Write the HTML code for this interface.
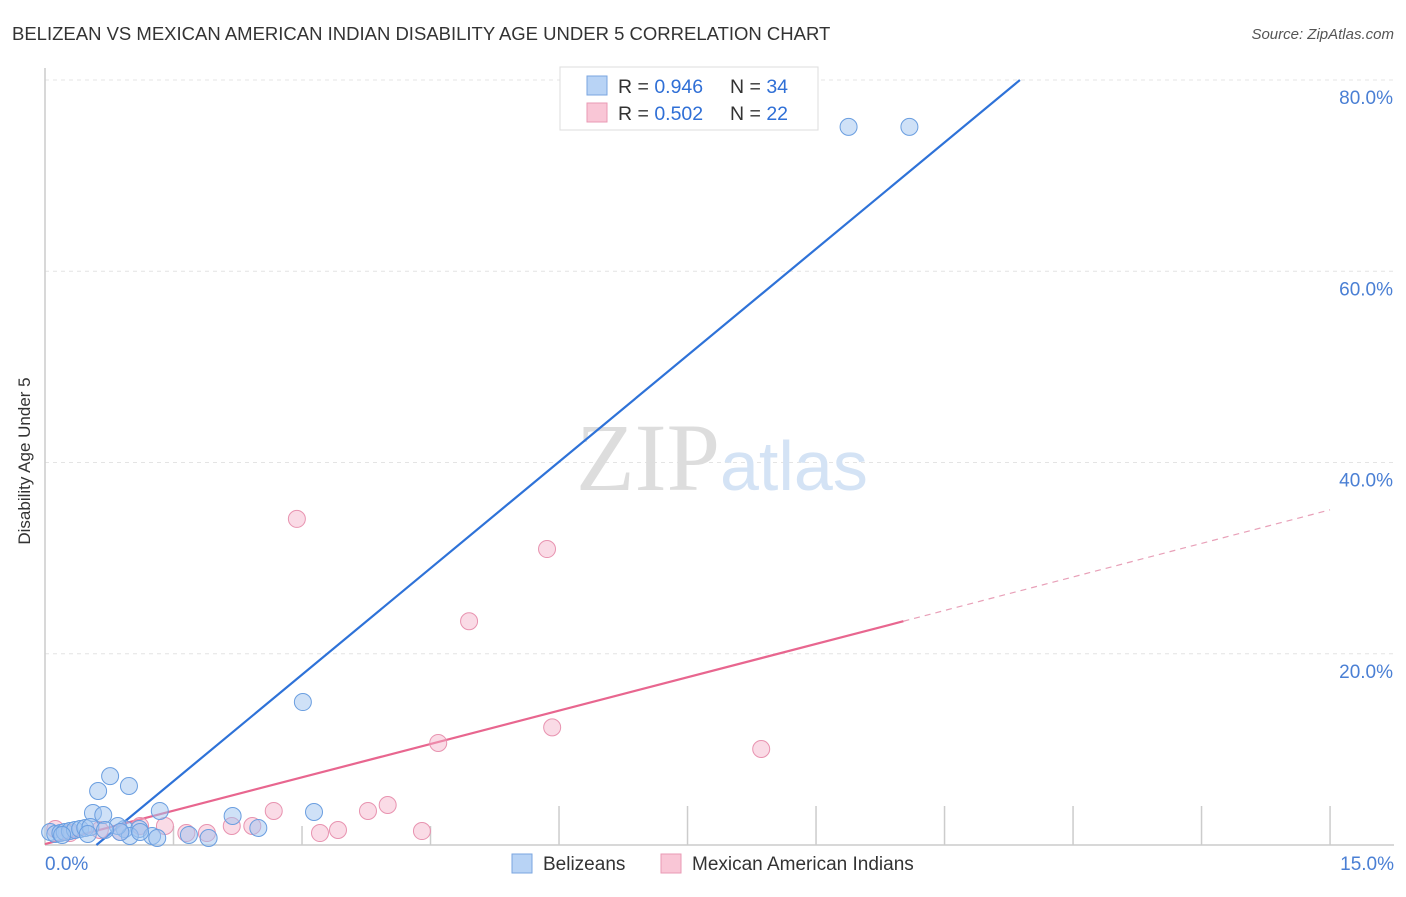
<!DOCTYPE html>
<html><head><meta charset="utf-8"><style>
body{margin:0;background:#fff;font-family:"Liberation Sans",sans-serif;}
svg text{font-family:"Liberation Sans",sans-serif;}
</style></head><body>
<svg width="1406" height="892" viewBox="0 0 1406 892" xmlns="http://www.w3.org/2000/svg">
<text x="12" y="40" font-size="18.5" fill="#333">BELIZEAN VS MEXICAN AMERICAN INDIAN DISABILITY AGE UNDER 5 CORRELATION CHART</text>
<text x="1394" y="39" font-size="15" fill="#555" font-style="italic" text-anchor="end">Source: ZipAtlas.com</text>
<g id="grid"></g>
<line x1="45" y1="68" x2="45" y2="845" stroke="#ccc" stroke-width="1.5"/>
<line x1="45" y1="845" x2="1394" y2="845" stroke="#ccc" stroke-width="1.5"/>
<text x="720" y="490" font-size="96" fill="#ddd" text-anchor="end" style="font-family:'Liberation Serif',serif">ZIP</text>
<text x="720" y="490" font-size="70" fill="#d4e3f5">atlas</text>
<text x="24" y="455" font-size="17" fill="#333" text-anchor="middle" transform="rotate(-90 30 455)">Disability Age Under 5</text>
<text x="45" y="870" font-size="19" fill="#4a7fd4">0.0%</text>
<text x="1394" y="870" font-size="19" fill="#4a7fd4" text-anchor="end">15.0%</text>
<g id="ylabels"></g>
<g id="lines"></g>
<g id="pts"></g>
<g>
<rect x="560" y="67" width="258" height="63" fill="#fff" stroke="#ddd"/>
<rect x="587" y="76" width="20" height="19" fill="#b8d3f5" stroke="#7aa6e0"/>
<rect x="587" y="103" width="20" height="19" fill="#f9c6d6" stroke="#e99ab4"/>
<text x="618" y="93" font-size="19.5" fill="#333">R = <tspan fill="#2f6fd6">0.946</tspan></text>
<text x="730" y="93" font-size="19.5" fill="#333">N = <tspan fill="#2f6fd6">34</tspan></text>
<text x="618" y="120" font-size="19.5" fill="#333">R = <tspan fill="#2f6fd6">0.502</tspan></text>
<text x="730" y="120" font-size="19.5" fill="#333">N = <tspan fill="#2f6fd6">22</tspan></text>
</g>
<g>
<rect x="512" y="854" width="20" height="19" fill="#b8d3f5" stroke="#7aa6e0"/>
<text x="543" y="870" font-size="19" fill="#333">Belizeans</text>
<rect x="661" y="854" width="20" height="19" fill="#f9c6d6" stroke="#e99ab4"/>
<text x="692" y="870" font-size="19" fill="#333">Mexican American Indians</text>
</g>
</svg>
<script>
const yTicks=[20,40,60,80];
const xTicks=[1.5,3,4.5,6,7.5,9,10.5,12,13.5,15];
const blueX=[9.38,10.09,3.01,0.76,0.62,0.98,1.34,2.19,3.14,0.56,0.68,2.49,0.93,1.10,1.25,1.68,1.91,0.99,1.31,0.06,0.12,0.18,0.23,0.29,0.35,0.41,0.47,0.53,0.85,0.88,1.11,0.5,0.2,0.7];
const blueY=[75.1,75.1,14.95,7.2,5.65,6.17,3.56,3.03,3.45,3.35,3.14,1.78,1.67,1.67,0.94,1.05,0.73,0.94,0.73,1.36,1.15,1.25,1.36,1.46,1.57,1.67,1.78,1.88,1.99,1.36,1.36,1.15,1.05,1.57];
const pinkX=[2.94,5.86,4.95,5.92,4.59,8.36,4.0,2.67,3.77,2.18,2.42,3.42,3.21,4.40,1.40,1.65,1.89,1.11,0.64,0.12,0.29,0.88];
const pinkY=[34.1,30.95,23.4,12.3,10.67,10.04,4.18,3.56,3.56,1.99,1.99,1.57,1.25,1.46,1.99,1.25,1.25,1.99,1.57,1.67,1.25,1.36];
const blueLine=[0.6,0,11.38,80];
const pinkLine=[0,0.1,10.02,23.4];
const pinkDash=[10.02,23.4,15,35.05];
const NS='http://www.w3.org/2000/svg';
const sx=v=>45+v*85.67, sy=v=>845-v*9.5625;
function mk(t,a,p){const e=document.createElementNS(NS,t);for(const k in a)e.setAttribute(k,a[k]);p.appendChild(e);return e;}
const grid=document.getElementById('grid'),yl=document.getElementById('ylabels');
yTicks.forEach(v=>{
 const l=mk('line',{x1:45,x2:1394,y1:sy(v),y2:sy(v),stroke:'#e4e4e4','stroke-dasharray':'4,4'},grid);
 
 
 const t=mk('text',{x:1393,y:sy(v)+24,'font-size':19,fill:'#4a7fd4','text-anchor':'end'},yl);
 t.textContent=v.toFixed(1)+'%';
 
 
});
xTicks.forEach(v=>{
 const l=mk('line',{x1:sx(v),x2:sx(v),y1:(v<5?826:806),y2:845,stroke:'#ccc','stroke-width':1.5},grid);
 
 
});
const lg=document.getElementById('lines');
let e=mk('line',{x1:sx(blueLine[0]),y1:sy(blueLine[1]),x2:sx(blueLine[2]),y2:sy(blueLine[3]),stroke:'#2e72d8','stroke-width':2.2},lg);


e=mk('line',{x1:sx(pinkLine[0]),y1:sy(pinkLine[1]),x2:sx(pinkLine[2]),y2:sy(pinkLine[3]),stroke:'#e8668f','stroke-width':2.2},lg);


e=mk('line',{x1:sx(pinkDash[0]),y1:sy(pinkDash[1]),x2:sx(pinkDash[2]),y2:sy(pinkDash[3]),stroke:'#e8a0b8','stroke-width':1.2,'stroke-dasharray':'6,5'},lg);


const pg=document.getElementById('pts');
pinkX.forEach((x,i)=>{
 const c=mk('circle',{cx:sx(x),cy:sy(pinkY[i]),r:8.5,fill:'rgba(245,175,200,0.45)',stroke:'#e893b0','stroke-width':1},pg);
 
 
});
blueX.forEach((x,i)=>{
 const c=mk('circle',{cx:sx(x),cy:sy(blueY[i]),r:8.5,fill:'rgba(160,195,240,0.5)',stroke:'#6a9ee0','stroke-width':1},pg);
 
 
});
</script>
</body></html>
